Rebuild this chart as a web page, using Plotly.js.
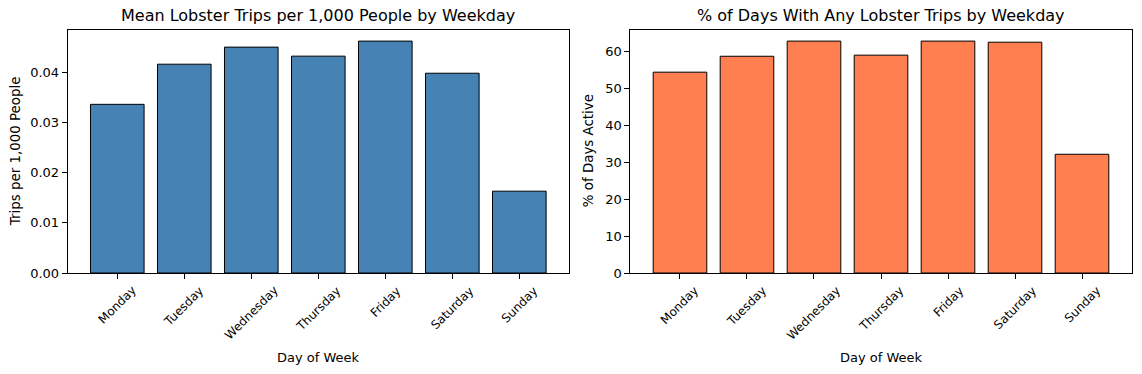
<!DOCTYPE html>
<html>
<head>
<meta charset="utf-8">
<script src="https://cdn.plot.ly/plotly-3.0.1.min.js"></script>
<style>
  html, body { margin: 0; padding: 0; background: #ffffff; }
  #chart { width: 1142px; height: 374px; }
</style>
</head>
<body>
<div id="chart"></div>
<script>
const days = ["Monday", "Tuesday", "Wednesday", "Thursday", "Friday", "Saturday", "Sunday"];
const tripsPer1000 = [0.0336, 0.0416, 0.0450, 0.0432, 0.0462, 0.0398, 0.0163];
const pctDaysActive = [54.3, 58.6, 62.7, 58.9, 62.7, 62.4, 32.1];

const leftTitle = "Mean Lobster Trips per 1,000 People by Weekday";
const rightTitle = "% of Days With Any Lobster Trips by Weekday";
const leftYLabel = "Trips per 1,000 People";
const rightYLabel = "% of Days Active";
const xLabel = "Day of Week";

const W = 1142, H = 374;
const FONT = "DejaVu Sans, sans-serif";
const px = v => v / W;
const py = v => 1 - v / H;

const axTop = 29.5, axBottom = 273;
const leftDom = [px(67.7), px(568.9)];
const rightDom = [px(630.4), px(1131.6)];

function yAxis(range, dtick, fmt) {
  return {
    domain: [py(axBottom), py(axTop)],
    range: range,
    dtick: dtick,
    tick0: 0,
    tickformat: fmt,
    ticks: "outside",
    ticklen: 5,
    tickwidth: 1,
    tickcolor: "#000",
    showline: true,
    linecolor: "#000",
    linewidth: 1,
    mirror: true,
    showgrid: false,
    zeroline: false,
    tickfont: { family: FONT, size: 13, color: "#000" },
    fixedrange: true
  };
}
function xAxis(domain) {
  return {
    domain: domain,
    type: "category",
    categoryorder: "array",
    categoryarray: days,
    range: [-0.74, 6.74],
    ticks: "outside",
    ticklen: 5,
    tickwidth: 1,
    tickcolor: "#000",
    showticklabels: false,
    showline: true,
    linecolor: "#000",
    linewidth: 1,
    mirror: true,
    showgrid: false,
    zeroline: false,
    fixedrange: true
  };
}

const traces = [
  {
    type: "bar", x: days, y: tripsPer1000, xaxis: "x", yaxis: "y",
    width: 0.8,
    marker: { color: "#4682B4", line: { color: "#000", width: 1 } },
    hoverinfo: "skip"
  },
  {
    type: "bar", x: days, y: pctDaysActive, xaxis: "x2", yaxis: "y2",
    width: 0.8,
    marker: { color: "#FF7F50", line: { color: "#000", width: 1 } },
    hoverinfo: "skip"
  }
];

const lMax = Math.max(...tripsPer1000) * 1.05;
const rMax = Math.max(...pctDaysActive) * 1.05;

const annotations = [];
function addText(text, x, y, opts) {
  annotations.push(Object.assign({
    text: text, x: x, y: y, xref: "paper", yref: "paper",
    showarrow: false, font: { family: FONT, size: 13, color: "#000" }
  }, opts));
}
const titleFont = { family: FONT, size: 16, color: "#000" };
addText(leftTitle, (leftDom[0] + leftDom[1]) / 2, py(16), { xanchor: "center", yanchor: "middle", font: titleFont });
addText(rightTitle, (rightDom[0] + rightDom[1]) / 2, py(16), { xanchor: "center", yanchor: "middle", font: titleFont });
addText(xLabel, (leftDom[0] + leftDom[1]) / 2, py(357), { xanchor: "center", yanchor: "middle" });
addText(xLabel, (rightDom[0] + rightDom[1]) / 2, py(357), { xanchor: "center", yanchor: "middle" });
const yLabFont = { family: FONT, size: 13.4, color: "#000" };
addText(leftYLabel, px(15), py((axTop + axBottom) / 2), { xanchor: "center", yanchor: "middle", textangle: -90, font: yLabFont });
addText(rightYLabel, px(588), py((axTop + axBottom) / 2), { xanchor: "center", yanchor: "middle", textangle: -90, font: yLabFont });
days.forEach(d => {
  ["x", "x2"].forEach(ax => {
    annotations.push({
      text: d, x: d, xref: ax, y: py(281), yref: "paper",
      xanchor: "center", yanchor: "top", textangle: -45, showarrow: false,
      font: { family: FONT, size: 12, color: "#000" }
    });
  });
});

const layout = {
  width: W, height: H,
  margin: { l: 0, r: 0, t: 0, b: 0, pad: 0 },
  paper_bgcolor: "#fff",
  plot_bgcolor: "#fff",
  showlegend: false,
  font: { family: FONT, color: "#000" },
  xaxis: Object.assign(xAxis(leftDom), { anchor: "y" }),
  yaxis: Object.assign(yAxis([0, lMax], 0.01, ".2f"), { anchor: "x" }),
  xaxis2: Object.assign(xAxis(rightDom), { anchor: "y2" }),
  yaxis2: Object.assign(yAxis([0, rMax], 10, "d"), { anchor: "x2" }),
  annotations: annotations
};

Plotly.newPlot("chart", traces, layout, { staticPlot: true, displayModeBar: false });
</script>
</body>
</html>
